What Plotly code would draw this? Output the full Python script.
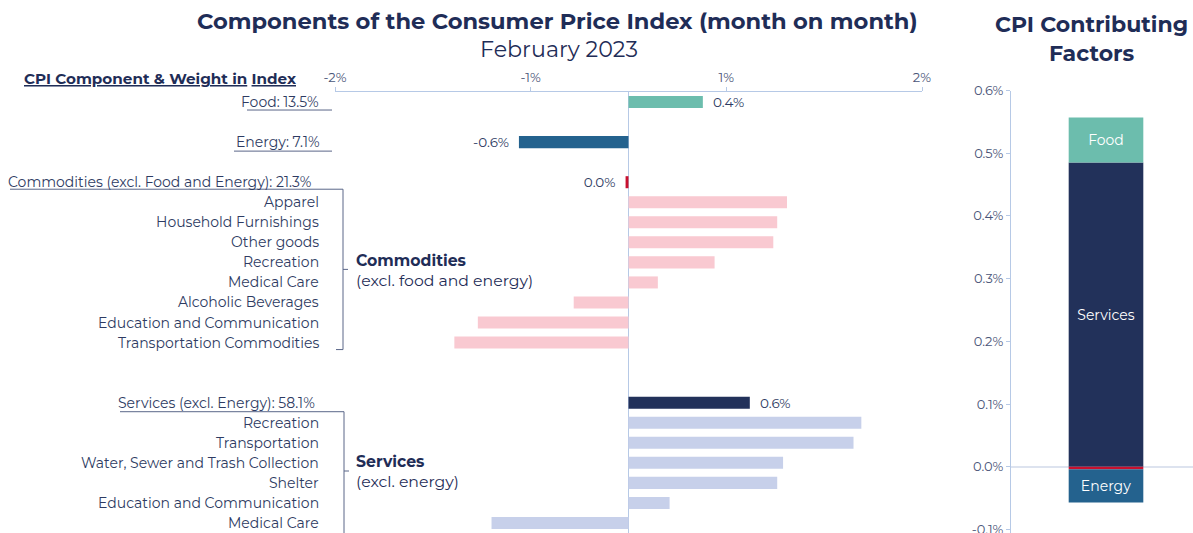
import plotly.graph_objects as go

W, H = 1193, 533

# ---------------- data ----------------
food_label = "Food: 13.5%"
food_value = [0.38]
energy_label = "Energy: 7.1%"
energy_value = [-0.56]
comm_label = "Commodities (excl. Food and Energy): 21.3%"
comm_value = [-0.015]
comm_items = ["Apparel", "Household Furnishings", "Other goods", "Recreation",
              "Medical Care", "Alcoholic Beverages", "Education and Communication",
              "Transportation Commodities"]
comm_values = [0.81, 0.76, 0.74, 0.44, 0.15, -0.28, -0.77, -0.89]
serv_label = "Services (excl. Energy): 58.1%"
serv_value = [0.62]
serv_items = ["Recreation", "Transportation", "Water, Sewer and Trash Collection",
              "Shelter", "Education and Communication", "Medical Care"]
serv_values = [1.19, 1.15, 0.79, 0.76, 0.21, -0.70]

x_tickvals = [-1.5, -0.5, 0.5, 1.5]
x_ticktext = ["-2%", "-1%", "1%", "2%"]

contrib_names = ["Services", "Food", "Commodities", "Energy"]
contrib_values = [0.485, 0.072, -0.004, -0.053]
contrib_text = ["Services", "Food", "", "Energy"]
y2_tickvals = [-0.1, 0.0, 0.1, 0.2, 0.3, 0.4, 0.5, 0.6]
y2_ticktext = ["-0.1%", "0.0%", "0.1%", "0.2%", "0.3%", "0.4%", "0.5%", "0.6%"]

# ---------------- styles ----------------
FONT = "Montserrat, 'Open Sans', sans-serif"
TXT = "#2e3b62"
TITLE = "#1f2d57"
AXIS = "#b6c9e6"
TICK = "#4a5578"
C_FOOD = "#6cbdad"
C_ENERGY = "#24628e"
C_COMM = "#c8102e"
C_COMM_SUB = "#f9c9d1"
C_SERV = "#22315a"
C_SERV_SUB = "#c7d0ea"
NB = "\u00a0\u00a0"


def px(x):
    return x / W


def py(y):
    return 1 - y / H


def fmt(v):
    s = f"{v:.1f}%"
    if s == "-0.0%":
        s = "0.0%"
    return s + NB if v < 0 else NB + s


# row keys (category order top to bottom)
k_food, k_energy, k_comm, k_serv = "food", "energy", "comm", "serv"
k_comm_items = ["comm|" + n for n in comm_items]
k_serv_items = ["serv|" + n for n in serv_items]
order = ([k_food, "sp1", k_energy, "sp2", k_comm] + k_comm_items +
         ["sp3", "sp4", k_serv] + k_serv_items)
n_rows = len(order)
TOP = 92
ROW = (H - TOP) / n_rows


def row_px(key):
    return TOP + ROW * (order.index(key) + 0.5)


fig = go.Figure()

bar_kw = dict(orientation="h", xaxis="x", yaxis="y", width=0.6,
              cliponaxis=False, hoverinfo="skip", marker_line_width=0,
              constraintext="none",
              textfont=dict(family=FONT, size=13.5, color=TXT))

fig.add_trace(go.Bar(y=[k_food], x=food_value, marker_color=C_FOOD,
                     text=[fmt(v) for v in food_value], textposition="outside", **bar_kw))
fig.add_trace(go.Bar(y=[k_energy], x=energy_value, marker_color=C_ENERGY,
                     text=[fmt(v) for v in energy_value], textposition="outside", **bar_kw))
fig.add_trace(go.Bar(y=[k_comm], x=comm_value, marker_color=C_COMM,
                     text=[fmt(v) for v in comm_value], textposition="outside", **bar_kw))
fig.add_trace(go.Bar(y=k_comm_items, x=comm_values, marker_color=C_COMM_SUB, **bar_kw))
fig.add_trace(go.Bar(y=[k_serv], x=serv_value, marker_color=C_SERV,
                     text=[fmt(v) for v in serv_value], textposition="outside", **bar_kw))
fig.add_trace(go.Bar(y=k_serv_items, x=serv_values, marker_color=C_SERV_SUB, **bar_kw))

contrib_colors = [C_SERV, C_FOOD, C_COMM, C_ENERGY]
for name, val, col, t in zip(contrib_names, contrib_values, contrib_colors, contrib_text):
    fig.add_trace(go.Bar(x=["CPI"], y=[val], name=name, marker_color=col,
                         marker_line_width=0, width=0.41, text=[t],
                         textposition="inside", insidetextanchor="middle",
                         constraintext="none",
                         textfont=dict(family=FONT, size=14, color="white"),
                         xaxis="x2", yaxis="y2", hoverinfo="skip"))

annotations = []
shapes = []


def note(text, x, y, size, color=TITLE, xanchor="center", align="center"):
    annotations.append(dict(text=text, x=px(x), y=py(y), xref="paper", yref="paper",
                            xanchor=xanchor, yanchor="middle", align=align,
                            showarrow=False, font=dict(family=FONT, size=size, color=color)))


# titles
note("<b>Components of the Consumer Price Index (month on month)</b>", 557, 21, 22.6)
note("February 2023", 559, 49, 22.2)
note("<b>CPI Contributing<br>Factors</b>", 1091, 39, 22)
note("<b><u>CPI Component & Weight in</u> <u>Index</u></b>", 22, 78, 15.2,
     xanchor="left", align="left")

# row labels
lab_font = dict(family=FONT, size=14, color=TXT)
for key, text, right in [(k_food, food_label, 321), (k_energy, energy_label, 322),
                         (k_comm, comm_label, 314), (k_serv, serv_label, 317)]:
    annotations.append(dict(text=text, x=px(right), y=key, xref="paper", yref="y",
                            xanchor="right", yanchor="middle", showarrow=False, font=lab_font))
for key, text in zip(k_comm_items + k_serv_items, comm_items + serv_items):
    annotations.append(dict(text=text, x=px(321), y=key, xref="paper", yref="y",
                            xanchor="right", yanchor="middle", showarrow=False, font=lab_font))

# bracket group labels
note("<b>Commodities</b><br>(excl. food and energy)", 354, 270, 15.7, xanchor="left", align="left")
note("<b>Services</b><br>(excl. energy)", 354, 471, 15.7, xanchor="left", align="left")

LINE = dict(color="#5a6688", width=1)


def seg(x0, y0, x1, y1):
    shapes.append(dict(type="line", xref="paper", yref="paper", x0=px(x0), y0=py(y0),
                       x1=px(x1), y1=py(y1), line=LINE))


# underlines
fy = row_px(k_food) + 8
seg(247, fy, 332, fy)
ey = row_px(k_energy) + 9
seg(234, ey, 332, ey)
# commodities bracket
cy = row_px(k_comm) + 7
cb = row_px(k_comm_items[-1]) + 7
seg(10, cy, 343, cy)
seg(343, cy, 343, cb)
seg(336, cb, 343, cb)
cm = (cy + cb) / 2
seg(343, cm, 348, cm)
# services bracket
sy = row_px(k_serv) + 9
seg(120, sy, 344, sy)
seg(344, sy, 344, H + 5)
sm = 471
seg(344, sm, 349, sm)

fig.update_layout(
    template="none",
    width=W, height=H,
    margin=dict(l=0, r=0, t=0, b=0, pad=0, autoexpand=False),
    paper_bgcolor="white", plot_bgcolor="rgba(0,0,0,0)",
    barmode="relative",
    showlegend=False,
    hovermode=False,
    font=dict(family=FONT, color=TXT),
    annotations=annotations,
    shapes=shapes,
    xaxis=dict(domain=[px(335), px(922)], range=[-1.5, 1.5], side="top", anchor="y",
               tickvals=x_tickvals, ticktext=x_ticktext, showline=True, linecolor=AXIS,
               linewidth=1, ticks="outside", ticklen=4, tickcolor=AXIS, automargin=False,
               zeroline=True, zerolinecolor=AXIS, zerolinewidth=1.5, showgrid=False,
               tickfont=dict(family=FONT, size=13, color=TICK)),
    yaxis=dict(domain=[0, py(TOP)], anchor="x", type="category", categoryarray=order,
               categoryorder="array", range=[n_rows - 0.5, -0.5], showticklabels=False,
               showgrid=False, zeroline=False, showline=False, ticks="", automargin=False),
    xaxis2=dict(domain=[px(1011), 1], anchor="y2", type="category", range=[-0.522, 0.478],
                showticklabels=False, showgrid=False, showline=False, zeroline=False,
                ticks="", automargin=False),
    yaxis2=dict(domain=[0, py(90.5)], anchor="x2", range=[-0.1057, 0.6],
                tickvals=y2_tickvals, ticktext=y2_ticktext, automargin=False,
                ticklabeloverflow="allow",
                showline=True, linecolor=AXIS, linewidth=1, ticks="outside", ticklen=4,
                tickcolor=AXIS, zeroline=True, zerolinecolor="#dde3ef", zerolinewidth=2,
                showgrid=False, tickfont=dict(family=FONT, size=13, color=TICK)),
)

fig.write_html("out.html",
               config={"displayModeBar": False, "staticPlot": True},
               post_script="document.body.style.margin='0';document.body.style.overflow='hidden';")
